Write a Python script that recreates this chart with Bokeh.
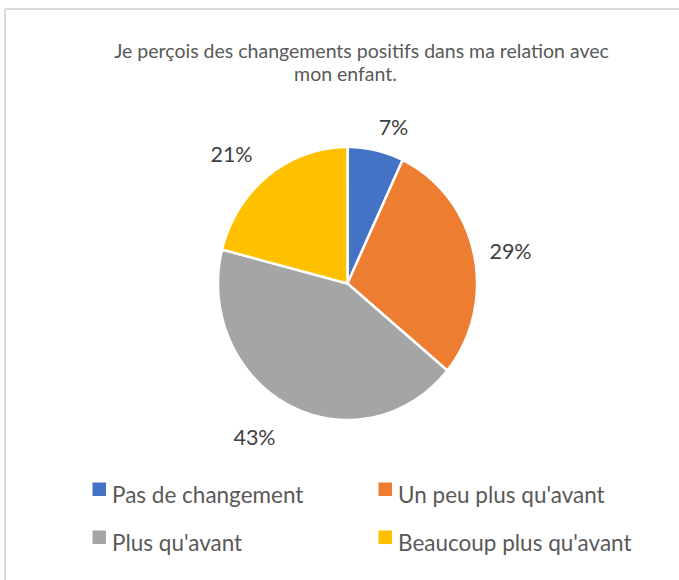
import numpy as np
from bokeh.plotting import figure
from bokeh.models import Range1d, ColumnDataSource
from bokeh.core.properties import value
from bokeh.embed import file_html
from bokeh.resources import INLINE

# ---- data ----
categories = ["Pas de changement", "Un peu plus qu'avant", "Plus qu'avant", "Beaucoup plus qu'avant"]
percents = [7, 29, 43, 21]
colors = ["#4472C4", "#ED7D31", "#A5A5A5", "#FFC000"]
title_lines = ["Je perçois des changements positifs dans ma relation avec", "mon enfant."]

# ---- layout (image pixel space) ----
W, H = 679, 580
FONT = "Lato"
cx, cy = 347.0, 283.0
rx, ry = 129.5, 136.5
label_pos = [(393, 126), (510, 250), (254, 436), (231, 153)]
legend_pos = [(92, 482), (378, 482), (92, 530), (378, 530)]
sq = 13.5

p = figure(width=W, height=H, output_backend="svg", toolbar_location=None,
           x_range=Range1d(0, W), y_range=Range1d(H, 0),
           min_border=0)
p.axis.visible = False
p.grid.visible = False
p.outline_line_color = None
p.background_fill_color = "white"
p.border_fill_color = "white"

# chart frame (top and left edges visible in the reference)
p.segment(x0=[4.5, 4.5], y0=[8.5, 8.5], x1=[W + 5, 4.5], y1=[8.5, H + 5],
          line_color="#D9D9D9", line_width=2)

# pie slices (clockwise from 12 o'clock)
total = float(sum(percents))
cum = np.concatenate([[0.0], np.cumsum(percents) / total])
xs, ys = [], []
for i in range(len(percents)):
    t = np.linspace(cum[i], cum[i + 1], 200)
    th = 2 * np.pi * t
    px = np.concatenate([[cx], cx + rx * np.sin(th), [cx]])
    py = np.concatenate([[cy], cy - ry * np.cos(th), [cy]])
    xs.append(px.tolist())
    ys.append(py.tolist())
p.patches(xs, ys, fill_color=colors, line_color="white", line_width=2.5, line_join="miter")

# data labels
lab = ColumnDataSource(dict(x=[q[0] for q in label_pos], y=[q[1] for q in label_pos],
                            t=[f"{v}%" for v in percents]))
p.text("x", "y", text="t", source=lab, text_font=value(FONT), text_font_size="21.5px",
       text_color="#404040", text_align="center", text_baseline="middle")

# title
p.text(x=[361, 345], y=[50, 73], text=title_lines, text_font=value(FONT),
       text_font_size="19.5px", text_color="#595959", text_align="center",
       text_baseline="middle")

# legend
lx = [q[0] for q in legend_pos]
ly = [q[1] for q in legend_pos]
p.rect(x=[v + sq / 2 for v in lx], y=[v + sq / 2 for v in ly], width=sq, height=sq,
       fill_color=colors, line_color=None)
p.text(x=[v + 19.5 for v in lx], y=[v + 11.5 for v in ly], text=categories,
       text_font=value(FONT), text_font_size="22.5px", text_color="#595959",
       text_align="left", text_baseline="alphabetic")

open("out.html", "w").write(file_html(p, INLINE))
